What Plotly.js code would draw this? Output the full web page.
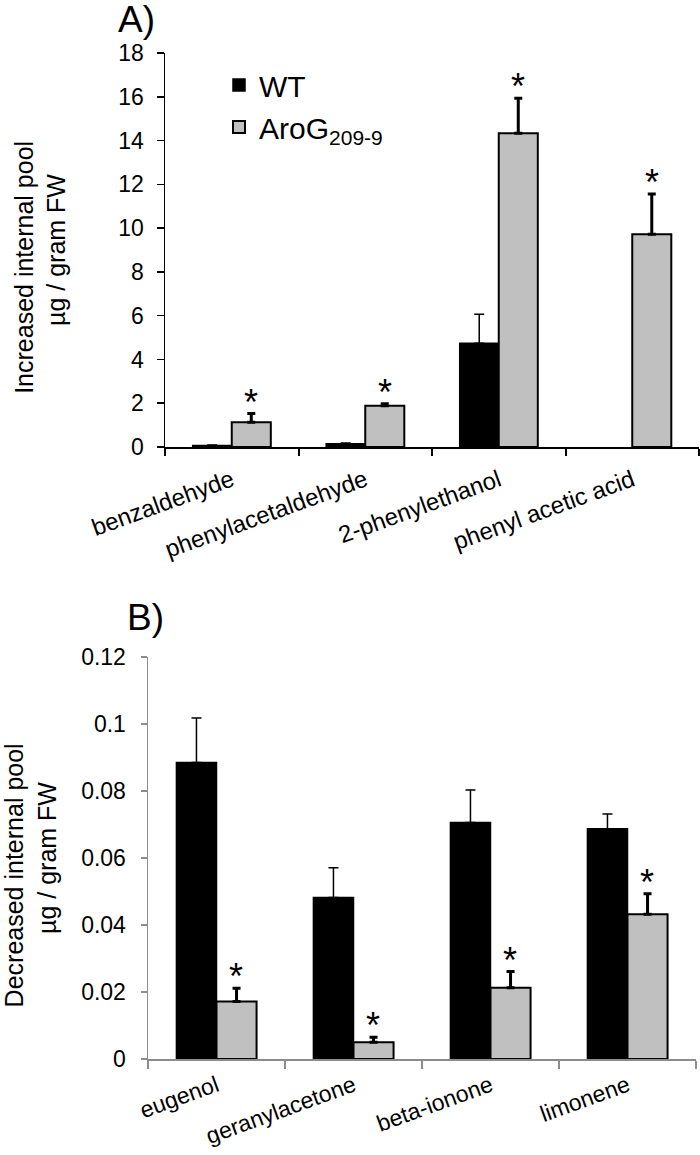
<!DOCTYPE html>
<html>
<head>
<meta charset="utf-8">
<script src="https://cdn.plot.ly/plotly-3.0.1.min.js"></script>
<style>html,body{margin:0;padding:0;background:#fff;}#chart{width:700px;height:1155px;}</style>
</head>
<body>
<div id="chart"></div>
<script>
// Panel A: increased internal pool (µg / gram FW)
var catsA = ['benzaldehyde', 'phenylacetaldehyde', '2-phenylethanol', 'phenyl acetic acid'];
var wtA = [0.07, 0.15, 4.74, null];
var wtErrA = [0.02, 0.03, 1.32, null];
var aroA = [1.13, 1.88, 14.33, 9.72];
var aroErrA = [0.40, 0.10, 1.60, 1.84];
var sigA = [true, true, true, true];

// Panel B: decreased internal pool (µg / gram FW)
var catsB = ['eugenol', 'geranylacetone', 'beta-ionone', 'limonene'];
var wtB = [0.0885, 0.0482, 0.0706, 0.0687];
var wtErrB = [0.0133, 0.0089, 0.0097, 0.0044];
var aroB = [0.0172, 0.0050, 0.0213, 0.0432];
var aroErrB = [0.0039, 0.0015, 0.0048, 0.0061];
var sigB = [true, true, true, true];

var seriesNames = ['WT', 'AroG<sub>209-9</sub>'];
var panelLabels = ['A)', 'B)'];
var NB = '\u00a0';
function pad(n) { var s = ''; for (var i = 0; i < n; i++) s += NB; return s; }
var yTitles = [
  'Increased internal pool' + pad(5) + '<br>µg / gram FW' + pad(8),
  'Decreased internal pool' + pad(5) + '<br>µg / gram FW' + pad(8)
];

var WT_COLOR = '#000000';
var ARO_COLOR = '#c0c0c0';
var FONT = 'Liberation Sans, Arial, sans-serif';

function zeros(n) { var a = []; for (var i = 0; i < n; i++) a.push(0); return a; }

var traces = [
  {type: 'bar', name: seriesNames[0], legendgroup: 'wt', x: catsA, y: wtA, xaxis: 'x', yaxis: 'y',
   marker: {color: WT_COLOR, line: {color: '#000', width: 1.5}},
   error_y: {type: 'data', symmetric: false, array: wtErrA, arrayminus: zeros(4), color: '#000', thickness: 1.5, width: 5}},
  {type: 'bar', name: seriesNames[1], legendgroup: 'aro', x: catsA, y: aroA, xaxis: 'x', yaxis: 'y',
   marker: {color: ARO_COLOR, line: {color: '#000', width: 2}},
   error_y: {type: 'data', symmetric: false, array: aroErrA, arrayminus: zeros(4), color: '#000', thickness: 3, width: 4}},
  {type: 'bar', name: seriesNames[0], legendgroup: 'wt', showlegend: false, x: catsB, y: wtB, xaxis: 'x2', yaxis: 'y2',
   marker: {color: WT_COLOR, line: {color: '#000', width: 1.5}},
   error_y: {type: 'data', symmetric: false, array: wtErrB, arrayminus: zeros(4), color: '#000', thickness: 1.5, width: 5}},
  {type: 'bar', name: seriesNames[1], legendgroup: 'aro', showlegend: false, x: catsB, y: aroB, xaxis: 'x2', yaxis: 'y2',
   marker: {color: ARO_COLOR, line: {color: '#000', width: 2}},
   error_y: {type: 'data', symmetric: false, array: aroErrB, arrayminus: zeros(4), color: '#000', thickness: 3, width: 4}}
];

var annotations = [];
function addStars(cats, vals, errs, sig, xref, yref) {
  for (var i = 0; i < cats.length; i++) {
    if (!sig[i]) continue;
    annotations.push({x: cats[i], y: vals[i] + errs[i], xref: xref, yref: yref, text: '*', showarrow: false,
      xanchor: 'center', yanchor: 'bottom', xshift: 19.5, yshift: -11,
      font: {family: FONT, size: 36, color: '#000'}});
  }
}
addStars(catsA, aroA, aroErrA, sigA, 'x', 'y');
addStars(catsB, aroB, aroErrB, sigB, 'x2', 'y2');

annotations.push({x: 116 / 700, y: 1 - 20 / 1155, xref: 'paper', yref: 'paper', text: panelLabels[0], showarrow: false,
  xanchor: 'left', yanchor: 'middle', font: {family: FONT, size: 37, color: '#000'}});
annotations.push({x: 125 / 700, y: 1 - 617 / 1155, xref: 'paper', yref: 'paper', text: panelLabels[1], showarrow: false,
  xanchor: 'left', yanchor: 'middle', font: {family: FONT, size: 37, color: '#000'}});

var layout = {
  width: 700, height: 1155,
  margin: {l: 0, r: 0, t: 0, b: 0},
  paper_bgcolor: '#fff', plot_bgcolor: '#fff',
  font: {family: FONT, color: '#000'},
  barmode: 'group', bargap: 0.415, bargroupgap: 0,
  showlegend: true,
  legend: {x: 219 / 700, y: 1 - 59 / 1155, xanchor: 'left', yanchor: 'top', bgcolor: 'rgba(0,0,0,0)',
    font: {family: FONT, size: 30, color: '#000'}, tracegroupgap: 0},
  xaxis: {domain: [165 / 700, 699 / 700], anchor: 'y', type: 'category', range: [-0.5, 3.5],
    showline: true, linecolor: '#000', linewidth: 2, ticks: 'outside', tickson: 'boundaries',
    ticklen: 7, tickwidth: 2, tickcolor: '#000', tickangle: -20, ticklabelstandoff: 8,
    tickfont: {family: FONT, size: 24, color: '#000'}, showgrid: false, zeroline: false},
  yaxis: {domain: [(1155 - 447) / 1155, (1155 - 53) / 1155], anchor: 'x', range: [0, 18], dtick: 2,
    showline: true, linecolor: '#000', linewidth: 1.5, ticks: 'outside', ticklen: 7, tickwidth: 1.5, tickcolor: '#000',
    ticklabelstandoff: 8,
    tickfont: {family: FONT, size: 23, color: '#000'}, showgrid: false, zeroline: false,
    title: {text: yTitles[0], font: {family: FONT, size: 25, color: '#000'}, standoff: 45}},
  xaxis2: {domain: [148 / 700, 696 / 700], anchor: 'y2', type: 'category', range: [-0.5, 3.5],
    showline: true, linecolor: '#8c8c8c', linewidth: 1.5, ticks: 'outside', tickson: 'boundaries',
    ticklen: 8, tickwidth: 1.5, tickcolor: '#8c8c8c', tickangle: -20, ticklabelstandoff: 3,
    tickfont: {family: FONT, size: 23, color: '#000'}, showgrid: false, zeroline: false},
  yaxis2: {domain: [(1155 - 1059) / 1155, (1155 - 657) / 1155], anchor: 'x2', range: [0, 0.12], dtick: 0.02,
    showline: true, linecolor: '#8c8c8c', linewidth: 1.5, ticks: 'outside', ticklen: 6, tickwidth: 1.5, tickcolor: '#8c8c8c',
    ticklabelstandoff: 10,
    tickfont: {family: FONT, size: 23, color: '#000'}, showgrid: false, zeroline: false,
    title: {text: yTitles[1], font: {family: FONT, size: 25, color: '#000'}, standoff: 20}},
  annotations: annotations
};

Plotly.newPlot('chart', traces, layout, {displayModeBar: false, staticPlot: true});
</script>
</body>
</html>
